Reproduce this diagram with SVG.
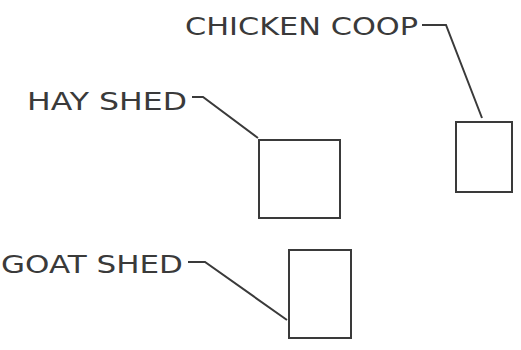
<svg xmlns="http://www.w3.org/2000/svg" width="521" height="350" viewBox="0 0 521 350">
<style>
text{font-family:"DejaVu Sans","Liberation Sans",sans-serif;font-size:24px;fill:#3a3a3a;}
.b{fill:none;stroke:#3a3a3a;stroke-width:2;}
.l{fill:none;stroke:#3a3a3a;stroke-width:2;}
</style>
<rect width="521" height="350" fill="#fff"/>
<g id="chicken-coop">
<rect class="b" x="456" y="122" width="56" height="70"/>
<text x="185" y="35" textLength="233" lengthAdjust="spacingAndGlyphs">CHICKEN COOP</text>
</g>
<g id="hay-shed">
<rect class="b" x="259" y="140" width="81" height="78"/>
<text x="27" y="110" textLength="160" lengthAdjust="spacingAndGlyphs">HAY SHED</text>
</g>
<g id="goat-shed">
<rect class="b" x="289" y="250" width="62" height="88"/>
<text x="1" y="273" textLength="182" lengthAdjust="spacingAndGlyphs">GOAT SHED</text>
</g>
<g id="connectors">
<polyline class="l" points="422,25 446,25 482,118"/>
<polyline class="l" points="192,97 203,97 258,138"/>
<polyline class="l" points="188,262 205,262 287,320"/>
</g>
</svg>
